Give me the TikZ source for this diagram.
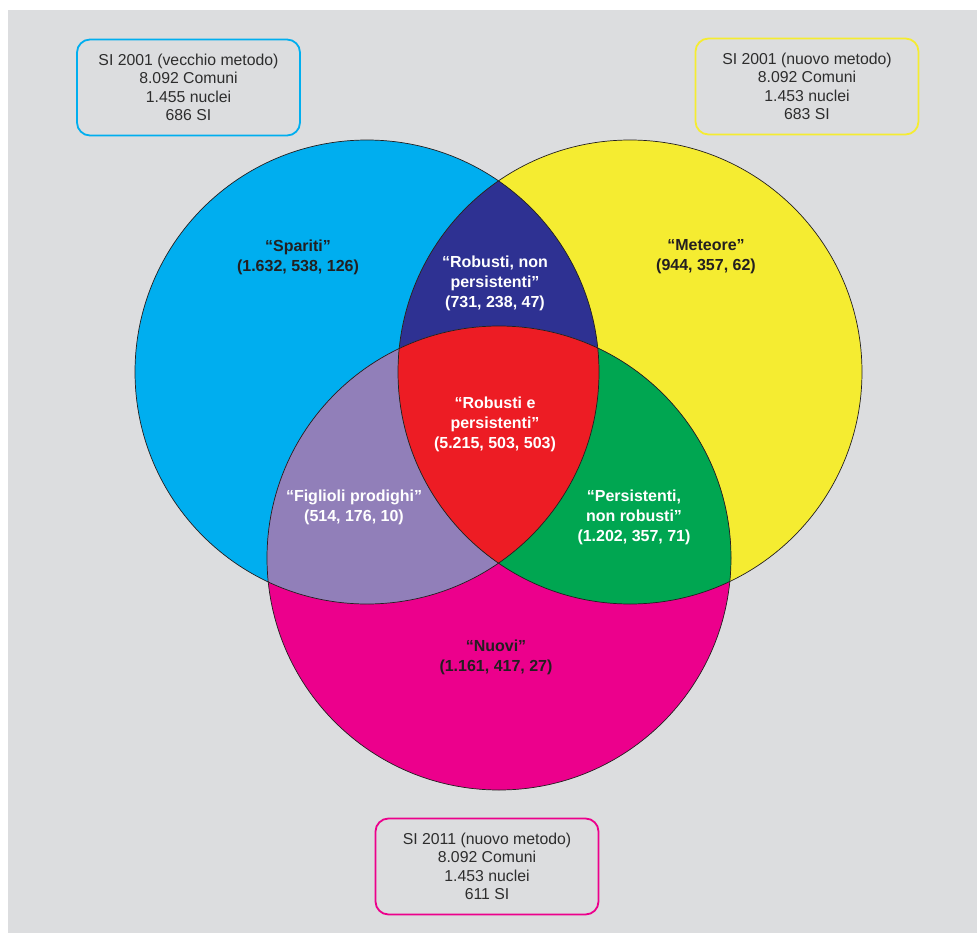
\documentclass[tikz,border=0pt]{standalone}
\usepackage{fontspec}
\setmainfont{Liberation Sans}
\definecolor{bg}{RGB}{220,221,223}
\definecolor{cblue}{RGB}{0,174,239}
\definecolor{cyellow}{RGB}{245,236,49}
\definecolor{cpink}{RGB}{236,0,140}
\definecolor{cnavy}{RGB}{46,49,146}
\definecolor{cred}{RGB}{237,28,36}
\definecolor{cpurple}{RGB}{145,127,185}
\definecolor{cgreen}{RGB}{0,166,81}
\definecolor{txt}{RGB}{45,45,45}
\definecolor{dark}{RGB}{35,31,32}
\tikzset{
  infobox/.style={draw, line width=1.8pt, rounded corners=13pt, minimum width=223pt,
    minimum height=96pt, align=center, text=txt, inner sep=0pt,
    font=\fontsize{15.8}{18.5}\selectfont},
  lbl/.style={align=center, font=\bfseries\fontsize{16}{20}\selectfont},
  ring/.style={draw=dark, line width=0.7pt}
}
\begin{document}
\begin{tikzpicture}[x=1pt,y=-1pt]
\useasboundingbox (0,0) rectangle (977,936);
\fill[white] (0,0) rectangle (977,936);
\fill[bg] (8,10) rectangle (977,933);
\coordinate (cb) at (367,372);
\coordinate (cy) at (630,372);
\coordinate (cp) at (499,558);
\def\rad{232pt}
\fill[cblue] (cb) circle[radius=\rad];
\fill[cyellow] (cy) circle[radius=\rad];
\fill[cpink] (cp) circle[radius=\rad];
\begin{scope}
  \clip (cb) circle[radius=\rad];
  \fill[cnavy] (cy) circle[radius=\rad];
  \fill[cpurple] (cp) circle[radius=\rad];
\end{scope}
\begin{scope}
  \clip (cy) circle[radius=\rad];
  \fill[cgreen] (cp) circle[radius=\rad];
\end{scope}
\begin{scope}
  \clip (cb) circle[radius=\rad];
  \clip (cy) circle[radius=\rad];
  \fill[cred] (cp) circle[radius=\rad];
\end{scope}
\draw[ring] (cb) circle[radius=\rad];
\draw[ring] (cy) circle[radius=\rad];
\draw[ring] (cp) circle[radius=\rad];

\node[infobox, draw=cblue] (boxold) at (188.5,87.5)
  {SI 2001 (vecchio metodo)\\8.092 Comuni\\1.455 nuclei\\686 SI};
\node[infobox, draw=cyellow] (boxnew) at (807,86.5)
  {SI 2001 (nuovo metodo)\\8.092 Comuni\\1.453 nuclei\\683 SI};
\node[infobox, draw=cpink] (box2011) at (487,866.5)
  {SI 2011 (nuovo metodo)\\8.092 Comuni\\1.453 nuclei\\611 SI};

\node[lbl, text=dark] (spariti) at (298,257) {“Spariti”\\(1.632, 538, 126)};
\node[lbl, text=white] (robnp) at (495,283) {“Robusti, non\\persistenti”\\(731, 238, 47)};
\node[lbl, text=dark] (meteore) at (706,257) {“Meteore”\\(944, 357, 62)};
\node[lbl, text=white] (robp) at (495,424) {“Robusti e\\persistenti”\\(5.215, 503, 503)};
\node[lbl, text=white] (figli) at (354,507) {“Figlioli prodighi”\\(514, 176, 10)};
\node[lbl, text=white] (persnr) at (634,517) {“Persistenti,\\non robusti”\\(1.202, 357, 71)};
\node[lbl, text=dark] (nuovi) at (496,657) {“Nuovi”\\(1.161, 417, 27)};
\end{tikzpicture}
\end{document}
